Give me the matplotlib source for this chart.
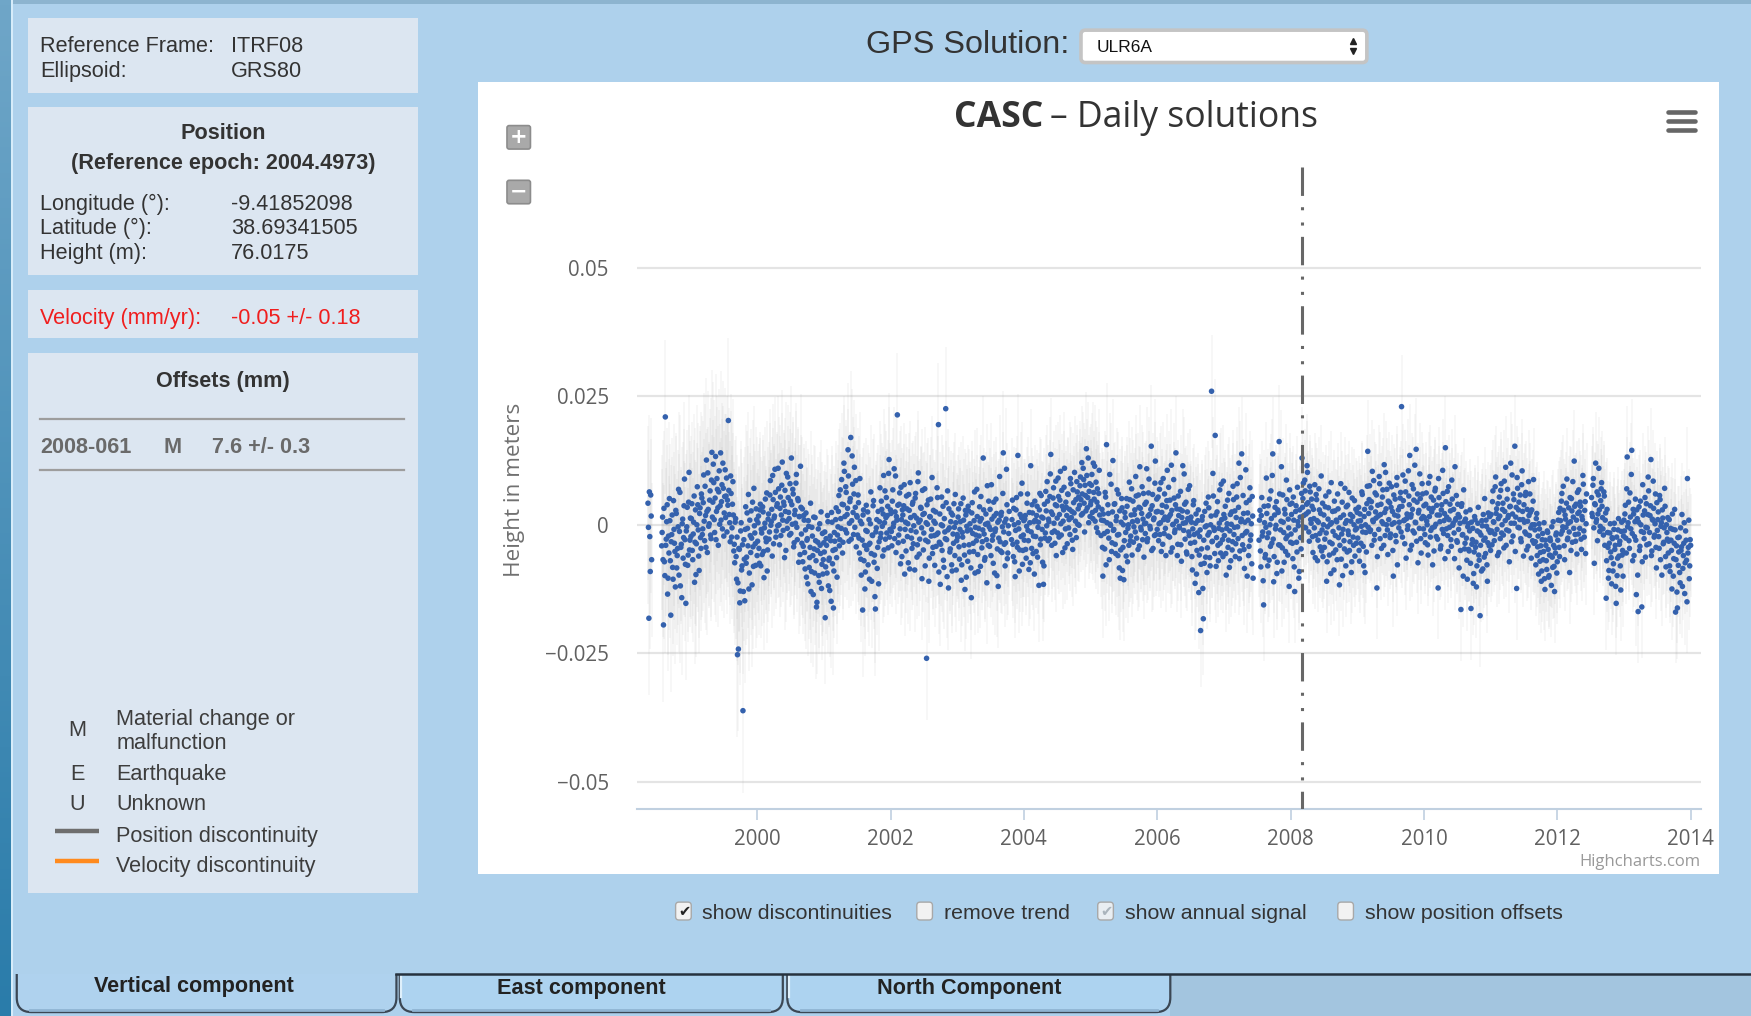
import numpy as np
import matplotlib
matplotlib.use('Agg')
import matplotlib.pyplot as plt
from matplotlib.patches import Rectangle, FancyBboxPatch

# ------------------------------------------------------------------ data
station = 'CASC'
solution = 'ULR6A'
sample_days = 5            # values read every 5 days, two interleaved passes
offset_days = 2.5
years = list(range(1998, 2014))

# heights in mm, None = no solution -- first pass
h1998 = [None]*26 + [4.2, -18.2, -2.3, 5.8, -6.8] + [None]*10 + [
    -4.1, 1.5, -19.5, -7.2, 21.0, -2.8, 3.9, -10.4, -5.5, 0.8, -17.6, -1.9, -8.3, 4.7, -3.6, -12.1,
    2.2, -6.0, -0.4, -9.8, 6.3, -4.4, -14.2, 1.1, -2.5, 8.9, -7.7, -1.2, 3.4, -5.9, 10.2, -3.0]
h1999 = [-2.3, 4.1, -6.8, 0.5, -11.2, 2.9, -3.7, 7.4, -1.0, -8.9, 3.3, -4.6,
         5.2, -0.8, 9.7, -3.1, 1.8, 12.6, -5.4, 3.0, 0.2, 6.6, -2.7, 14.1,
         4.4, 8.2, -1.5, 13.3, 2.6, 6.9, -4.0, 10.5, 3.7, 0.9, 7.8, 12.0, -2.2, 5.5, 1.4, 9.1, 4.8,
         20.3, 2.0, -3.3, 6.1, -0.6, 8.4, -5.1,
         -7.4, 1.2, -10.6, -25.3, -24.2, -4.8, -12.9, 0.4, -8.0, -36.2, -2.9,
         -14.8, 3.5, -6.3, -0.7, 5.9, -9.4, -2.1, 2.7, -11.7, -4.3, 7.1, -1.6, -7.9, 1.0]
h2000 = [-3.2, 1.7, -7.5, 4.0, -0.9, -5.8, 2.5, -10.3, 0.3, -2.6, 6.2, -4.9,
         2.1, -1.4, 8.6, 0.6, -6.1, 4.9, 1.3, 10.8, -2.4, 3.6, -0.2, 7.0,
         -3.9, 5.4, 1.9, 12.2, -1.1, 3.8, 6.7, -5.0, 0.7, 9.3, 2.4, -2.0,
         4.6, 13.0, 0.1, 6.0, -3.5, 2.8, 8.1, -0.5, 5.1, -7.3, 1.6, 11.4,
         -1.8, 3.1, -4.2, 0.9, -8.6, 2.3, -3.0, -11.5, -0.3, -6.4, 4.2, -9.1,
         -2.2, -13.6, -4.7, 1.4, -7.0, -15.1, -3.4, -9.9, 0.2, -5.6, -12.4, -1.7, -6.8]
h2001 = [-5.3, -18.1, -2.7, -9.4, 0.6, -6.9, -12.8, -3.1, 2.4, -7.6, -16.2, -1.5,
         -4.8, 3.3, -10.2, -0.4, 5.7, -2.9, 1.2, 8.8, -5.5, 3.9, 10.4, -1.0,
         6.3, 2.0, 14.6, -3.2, 4.5, 17.0, 0.8, 7.9, -1.9, 11.2, 3.4, -4.3,
         1.5, 5.8, -2.6, 9.0, -6.7, 0.2, -16.6, 2.9, -4.0, -9.2, 3.8, -1.3,
         -7.8, 1.0, -3.6, 6.4, -11.0, -2.1, 4.7, -5.9, -16.4, -0.6, -8.5, 2.6,
         -3.3, 7.2, -1.7, 3.0, -6.1, 9.6, 0.4, -2.8, 5.3, 1.8, -4.5, 12.7, -0.9]
h2002 = [2.2, -4.1, 6.8, 0.3, -2.7, 9.5, 1.6, 21.4, -3.5, 4.0, -0.8, 7.3,
         -6.2, 1.9, 3.7, -9.6, 0.5, 5.6, -2.3, -7.4, 2.8, 8.2, -1.1, -4.6,
         4.4, -0.2, -8.8, 6.1, 1.3, -3.9, 10.1, -5.7, 0.9, 3.2, -10.5, 2.0,
         -1.6, 7.0, -3.0, -26.0, 0.1, 4.8, -6.5, 1.5, -2.2, 9.2, -4.4, 0.7,
         -7.9, 2.5, -1.9, 5.3, 19.5, -3.4, -11.6, 0.0, -5.0, 3.6, -8.3, -1.4,
         22.6, -2.9, 6.6, -12.3, -0.6, -4.7, 2.3, -9.0, -1.8, 4.1, -6.0, 0.4, -3.1]
h2003 = [-2.4, 3.1, -6.7, 0.6, -10.8, -1.5, 5.2, -4.0, -12.6, 1.9, -0.3, -7.1,
         2.7, -5.3, -1.0, -14.2, 4.3, -3.6, 0.8, -9.4, -2.0, 6.9, -5.8, -0.7,
         3.5, -8.1, 1.2, -3.3, 13.0, -1.8, -6.4, 2.1, -11.3, 0.3, 4.6, -4.2,
         -0.9, 7.8, -3.0, -7.5, 1.7, -1.3, 5.0, -9.9, 0.5, -2.6, 9.4, -5.1,
         2.4, -0.4, 14.0, -3.8, -8.0, 1.1, 3.9, -5.5, -1.7, None, None, -2.9,
         4.8, -6.2, 0.0, -10.1, 2.9, -3.4, 13.5, -0.8, -4.9, 6.0, 1.4, -7.7, -2.0]
h2004 = [-3.0, 1.8, -6.5, 4.2, -1.1, -8.7, 0.4, 11.5, -4.6, 2.3, -2.2, -9.6,
         0.9, -5.2, 3.6, -0.5, -11.8, 6.1, -2.8, 1.5, -7.3, -11.6, 4.0, -1.6,
         2.7, 8.4, -3.1, 0.6, 5.5, 13.7, -4.0, 2.0, 7.2, -1.2, 3.9, -6.0,
         1.3, 9.1, -2.4, 4.8, 0.2, 6.7, -5.4, 2.9, 11.0, -0.8, 3.4, -3.7,
         5.9, 1.0, -1.9, 8.0, 2.6, -4.8, 4.3, 10.2, 0.7, -2.5, 6.4, 3.1,
         -0.1, 7.6, 4.9, 12.1, 2.2, 8.8, -1.4, 5.7, 14.8, 3.3, 13.0, 6.5, 1.6]
h2005 = [4.5, 9.8, 1.2, 6.3, 11.4, 2.8, -0.6, 7.0, 3.5, 10.6, None, -2.1,
         3.0, -10.0, 0.8, -4.7, 5.4, 15.6, -1.3, 2.2, -6.8, 0.1, 7.9, -3.5,
         12.5, -0.9, 4.1, -5.6, 1.6, -2.0, 6.0, -8.4, -10.4, 0.5, 3.3, -4.4,
         -10.7, 2.4, -1.5, 5.1, -7.2, 0.0, 8.3, -3.1, 1.9, -5.9, 4.6, -0.4,
         2.9, 9.4, -2.6, 0.7, 5.8, -4.1, 3.2, -1.0, 7.4, 1.1, -6.3, 4.0,
         0.3, 10.9, -2.7, 6.2, 2.0, -0.8, 15.3, 3.7, -4.6, 1.3, 8.1, -1.9, 5.0]
h2006 = [2.6, -3.1, 6.9, 0.4, -5.2, 3.8, 9.0, -1.7, 1.5, -6.0, 4.7, 0.9,
         7.3, -2.4, 2.0, 11.6, -4.5, 0.1, 5.2, -1.0, 14.0, 3.1, -3.8, 1.8,
         -0.6, 6.5, -7.1, 2.7, 0.3, 9.9, -2.8, 4.4, -5.7, 1.2, -1.4, 7.6,
         -3.6, 0.5, -8.8, 3.9, -1.9, -11.4, 2.1, -5.0, 0.8, -13.2, -2.3, -20.6,
         -4.7, 1.6, -18.3, -7.5, -0.4, 4.2, -9.3, -2.0, 3.3, -6.4, 0.0, 26.0,
         -3.2, 5.6, -1.1, 17.4, -8.1, 2.5, -4.0, -0.7, 6.8, -5.5, 1.0, -2.9, 8.5]
h2007 = [-2.1, 3.6, -9.8, 0.2, -4.4, 6.1, -1.2, -7.0, 2.5, -3.3, 4.9, -0.5,
         -6.2, 1.4, 8.0, -2.7, 12.0, -5.1, 0.6, 13.8, -3.9, 2.2, -8.5, -1.6,
         4.3, -10.0, 0.9, -4.2, 7.2, -2.0, -7.6, 1.7, None, None, None, None,
         None, None, -3.0, 2.8, -8.2, 5.3, -1.4, -15.6, 0.4, -5.8, 9.1, -2.5,
         3.7, -6.9, 0.0, 6.6, -3.6, 13.8, -11.1, 1.9, -0.8, 4.5, -7.3, 2.4,
         16.2, -4.0, 0.7, -9.0, 5.8, -1.5, 3.0, -5.2, 8.7, -2.2, 1.1, -12.0, 4.0]
h2008 = [-1.8, 4.2, -6.6, 0.9, -13.0, 2.6, -3.4, 7.3, -0.2, -9.1, 1.5, -4.7,
         13.0, 5.1, 1.8, 8.7, -0.6, 4.0, 10.2, 2.5, -3.2, 6.4, 0.3, 3.6,
         -5.4, 1.2, 7.8, -2.1, 4.9, -7.0, 0.5, 2.9, -4.3, 9.5, -1.0, -6.2,
         1.9, -2.8, 5.6, -11.0, -0.4, 3.3, -5.9, 0.1, 8.2, -3.7, -1.3, -8.8,
         2.7, -4.9, 0.6, 6.0, -2.5, -11.7, 1.4, -6.7, 4.4, -0.9, -3.1, 7.1,
         -8.0, 0.8, 3.8, -1.9, -5.0, 2.0, -9.3, 5.2, -2.4, 0.0, -6.1, 3.0, -0.7]
h2009 = [-2.6, 3.4, -7.1, 0.8, -0.3, 5.9, -4.2, 1.6, -9.3, -1.5, 4.1, 14.3,
         2.2, 7.6, -1.0, 4.5, 10.4, 0.6, -3.0, 6.2, 1.3, -12.3, 3.8, -0.9,
         8.0, 2.0, -4.6, 5.4, 0.2, 11.7, -2.1, 3.1, 6.9, -5.8, 1.0, 4.3,
         -1.8, 7.4, 2.6, -10.0, 0.4, 5.0, -3.3, 9.2, 1.7, -0.6, 3.5, 6.3,
         23.0, -2.4, 4.7, 0.9, 8.5, -6.5, 2.1, -0.2, 5.6, 13.5, 1.5, -4.0,
         3.0, 7.0, -1.6, 0.5, 14.7, 4.4, -7.4, 2.8, 9.9, -2.7, 1.2, 6.0, -0.8]
h2010 = [1.4, -3.5, 6.2, 0.0, -5.9, 3.2, 9.4, -1.1, 2.5, -7.8, 4.8, -0.4,
         7.1, -2.3, 1.9, -12.3, 5.3, 0.6, -4.1, 3.9, 10.6, -1.7, 2.2, 15.0,
         -0.8, 6.5, -5.2, 1.0, 4.0, -2.9, 8.7, -0.1, 3.0, -6.6, 0.9, 5.7,
         -3.4, 2.0, -8.4, 0.3, -16.5, 4.1, -1.9, 6.8, -4.7, 1.1, -2.6, -10.6,
         0.2, -5.1, 2.9, -16.3, -3.8, -0.7, -9.5, 1.6, -4.4, -12.1, -1.2, 3.4,
         -6.9, -17.7, -2.0, 0.8, -8.6, -3.0, 5.1, -5.6, -0.3, -11.0, 2.3, -4.1, -1.5]
h2011 = [2.0, -3.9, 6.6, 0.5, -1.8, 9.3, 3.1, -6.0, 1.2, 5.4, -2.7, 8.0,
         0.0, 4.2, -4.5, 2.6, 11.2, -1.0, 6.9, 1.8, -7.2, 3.6, 0.3, 9.7,
         -2.2, 4.9, 15.3, 1.5, -12.4, 7.1, 2.9, -0.6, 5.8, -3.3, 10.5, 1.0,
         3.9, -1.4, 6.3, -4.9, 0.7, 8.4, -2.1, 2.4, -6.5, 0.0, 4.6, -3.6,
         -1.0, -7.8, 2.2, -4.3, -9.6, -0.8, -5.4, -11.0, -2.9, -6.8, 0.4, -12.6,
         -4.0, -8.7, -1.5, -10.2, -5.9, -3.1, -11.8, -6.3, 0.6, -8.1, -4.5, -2.0, -9.4]
h2012 = [-3.0, 2.4, -6.2, 0.8, 4.6, -1.2, 7.5, -4.1, 1.9, -0.5, 8.9, -2.6,
         3.3, -9.3, 0.6, 5.1, -3.4, 1.5, 12.4, -1.9, 4.0, -5.7, 2.2, 6.8,
         -0.7, 3.6, -4.8, 1.0, 7.9, -2.4, 4.5, 0.2, None, None, None, None, None,
         5.3, 1.6, 9.0, -7.5, 3.9, 0.5, 6.4, 2.1, 11.0, -1.3, 4.7,
         8.2, 1.4, -2.0, 5.6, 0.9, -14.3, 3.0, -4.4, -8.9, -1.6, -5.3, -11.5,
         -2.7, -7.6, 0.3, -4.0, -15.3, -9.9, -1.0, -6.1, -3.2, -12.7, 0.5, -5.0, -2.2]
h2013 = [-1.2, 3.8, -5.5, 13.2, 0.4, -3.1, 6.2, -0.8, 14.5, -7.0, 2.1, -2.3,
         5.0, -13.6, 1.2, -16.9, 3.5, -4.2, 0.0, -16.0, 7.8, -1.5, 2.7, -6.3,
         4.1, -0.6, 9.3, -3.7, 1.8, 12.7, -5.1, 0.9, 3.2, -2.0, 6.0, -8.4,
         -1.1, 2.5, -4.6, 4.9, -0.3, -9.8, 1.3, -3.4, 7.1, -6.2, 0.0, -2.8,
         -5.5, 1.0, -9.1, -3.0, -12.5, -0.9, -6.6, 3.0, -17.0, -4.1, -16.2, -7.9,
         -2.4, -11.3, -5.0, 2.0, -8.5, -3.6, -13.4, -1.2, -6.9, 9.0, -4.4, -10.5, -2.9]

# second pass, read between the first-pass epochs (mm)
g1998 = [None]*26 + [-0.5, 6.4, -9.1, 1.7, None] + [None]*10 + [
    -1.5, -6.8, 3.2, -9.9, -4.0, 0.6, -13.5, -2.2, 5.1, -7.0, -3.3, 1.9, -10.6, -0.9, -5.2, 2.8,
    -8.4, -4.6, 6.9, -1.3, -11.9, -3.8, 0.2, -6.5, 3.7, -2.9, -15.3, -0.4, -7.9, 4.4, -4.9, 1.3]
g1999 = [1.2, -5.0, -1.8, 5.6, -3.4, -9.7, 0.0, 3.9, -6.1, 2.2, -2.5, 6.0,
         -1.9, 4.3, 0.7, 7.5, -4.4, 2.6, 10.1, -0.3, 4.8, -2.0, 8.7, 1.5,
         11.8, 1.0, 5.2, -2.9, 9.0, 3.3, 6.4, 0.1, 14.0, 4.5, -0.8, 7.1, 2.3, 10.7, 5.6, -1.4, 3.8,
         6.7, 0.4, 9.5, -2.4, 4.0, 1.9, -3.8,
         0.5, -6.2, -2.4, -11.3, -4.6, -15.2, -1.2, -8.8, -3.9, -13.0, -6.7,
         -0.9, -7.5, 2.3, -4.1, -12.5, 0.9, -5.4, -2.6, 4.4, -8.1, -0.2, -3.7, 3.1, -6.0]
g2000 = [0.4, -4.6, 2.9, -8.0, -1.6, 3.5, -5.2, -0.6, 5.0, -3.3, -9.0, 1.1,
         -2.8, 5.8, -0.1, 3.0, 9.6, -3.7, 1.7, 6.3, -1.2, 4.1, 11.0, 0.0,
         3.2, -2.1, 7.7, 0.9, 4.4, -6.4, 2.6, 10.0, -0.7, 5.3, 1.2, 8.0,
         -1.7, 3.9, 6.9, -4.3, 2.0, 0.3, 9.8, -2.9, 4.7, 1.6, -5.8, 3.4,
         -3.6, -7.2, 1.8, -5.4, -1.0, -10.2, -2.7, 0.8, -8.3, -4.4, -13.0, -0.5,
         -6.0, 1.5, -9.4, -3.1, -16.0, -5.0, -0.8, -11.2, -4.0, 2.5, -7.7, -9.6, -3.5]
g2001 = [-1.4, -8.2, -4.0, 1.8, -11.9, -6.5, -2.2, -14.9, 0.5, -5.0, -9.0, -3.2,
         1.0, -6.4, -2.0, 2.6, -4.1, 6.8, -0.7, 4.0, -3.4, 12.0, 1.6, 7.4,
         -1.6, 3.2, 9.5, 0.3, 5.1, -2.8, 13.4, 2.4, 6.0, -0.5, 8.6, 1.8,
         -2.0, 4.3, -5.5, 0.7, -9.8, -3.0, 1.9, -7.0, -12.5, -1.1, -4.8, 2.5,
         -3.9, -10.6, 0.2, -5.6, -2.0, 3.7, -7.3, -14.0, -1.4, 1.0, -4.4, -11.5,
         0.6, -2.5, 4.6, -0.3, 2.1, -4.9, 6.6, 1.4, -1.6, 3.6, 10.0, -2.4, 2.9]
g2002 = [-1.3, 4.6, -0.4, 10.9, 2.5, -5.4, 0.9, 3.8, -2.0, 6.2, -7.6, 1.0,
         2.9, -3.2, 7.8, -0.9, -5.1, 3.1, 0.2, 5.9, -8.6, 1.4, -2.6, 4.0,
         -3.7, 1.8, 5.2, -1.4, -6.3, 8.4, 0.5, -2.8, 3.4, -0.6, 6.7, -4.9,
         2.2, -8.0, 0.4, 3.9, -3.3, -11.0, 1.6, 5.0, -0.9, -5.6, 2.8, -2.1,
         0.3, -4.2, 7.2, -1.6, -9.2, 2.1, -3.8, 5.4, -0.2, -6.9, 1.2, -2.7,
         4.3, -10.1, -1.0, 3.1, -5.3, 0.6, -7.8, 1.9, -3.6, -0.5, 5.9, -8.8, -1.9]
g2003 = [1.5, -4.3, -0.9, 4.1, -7.8, -2.4, 0.9, -5.9, 2.8, -10.2, -1.2, 3.6,
         -3.9, 0.2, -8.4, 2.3, -1.7, -5.2, 6.4, -0.5, -3.1, 1.6, -9.1, -2.2,
         0.7, 5.5, -4.5, -1.0, 2.9, -6.9, 0.1, -2.9, 7.6, -4.0, -0.4, 3.0,
         -6.0, 1.1, -2.1, 4.4, -9.4, -0.8, 2.2, -4.7, -12.0, 0.9, -3.3, 1.8,
         -5.4, 6.1, -1.4, 0.5, -3.5, 10.8, -6.6, -0.2, 2.6, None, None, 1.0,
         -3.8, 3.2, -7.2, -1.1, 5.3, -4.4, 0.4, -9.0, 2.0, -2.3, 8.1, -5.0, 0.8]
g2004 = [1.1, -4.8, -0.3, 6.0, -3.1, 2.4, -7.4, -1.4, 3.9, -5.6, 0.6, 4.6,
         -2.3, 1.8, -6.3, 0.5, 2.9, -3.9, 5.7, -0.9, 1.3, -8.0, -2.6, 6.5,
         -0.2, 4.6, 1.1, -2.7, 9.9, 2.5, -1.5, 5.2, 0.3, -3.6, 8.5, 3.7,
         -1.6, 5.5, 2.0, 10.4, -2.0, 3.6, 0.7, 7.3, -4.5, 4.4, 1.8, 6.0,
         -0.6, 3.0, 9.0, 1.4, -3.0, 6.8, 2.3, -1.1, 4.9, 8.4, 0.1, 5.4,
         3.8, 9.3, 1.9, 6.0, 11.0, 4.2, 7.7, 2.7, 9.6, 5.3, 0.4, 8.0, 3.9]
g2005 = [7.7, 2.4, 12.0, 5.0, 0.7, 8.3, 4.4, -1.5, 6.1, 1.9, None, 0.9,
         -4.4, 2.1, -1.7, 6.3, -7.8, 0.4, 3.9, -2.6, 9.8, -0.1, -5.2, 2.5,
         -1.1, 4.0, -3.8, 0.8, 6.8, -6.0, -1.9, 2.7, -4.9, 5.1, -8.9, 0.0,
         -3.1, 1.4, -6.1, 3.6, -0.7, -4.0, 4.9, -2.2, 7.0, 0.6, -3.4, 2.0,
         -1.4, 5.6, 0.9, -4.8, 3.4, 11.3, -0.5, 2.2, -2.9, 6.1, 0.2, -1.7,
         4.4, -3.3, 1.7, 8.9, -0.3, 3.0, -5.0, 5.9, 1.0, -2.1, 12.4, 2.5, -0.9]
g2006 = [5.4, 0.2, -1.9, 8.2, 2.4, -3.8, 1.0, 6.0, -0.7, 3.5, 10.6, -2.2,
         1.6, 4.8, -5.3, 2.8, 0.0, 8.8, -1.5, 3.9, 0.7, -6.0, 5.6, -0.3,
         3.0, -3.9, 1.4, 11.5, -1.1, 4.0, 0.4, -5.3, 2.5, 6.9, -2.1, 0.9,
         1.5, -6.2, -0.8, 4.7, -3.4, 0.3, -9.6, -1.6, 2.9, -5.9, -1.0, -7.7,
         0.9, -12.4, -3.0, 2.6, -6.3, -0.2, -4.5, 5.4, -1.5, -8.0, 1.7, -3.3,
         10.0, -0.6, -5.6, 1.9, -2.5, 4.5, -7.0, 0.3, -3.6, 7.9, -1.0, -6.2, 2.0]
g2007 = [1.3, -5.6, -0.7, 4.8, -3.0, -8.3, 2.0, 0.1, -4.9, 7.5, -1.9, 2.7,
         -3.7, 5.4, -0.4, 3.4, -6.6, 9.2, 1.1, -2.1, 5.7, -4.8, 0.5, 10.7,
         -1.3, 2.3, -6.0, 4.8, -3.0, 0.2, 5.5, -10.4, None, None, None, None,
         None, None, 0.9, -5.1, 1.8, -2.2, -10.9, 3.6, -6.4, -0.5, 2.2, -8.0,
         -1.6, 5.0, -4.2, 1.2, 9.6, -2.8, -6.2, 3.4, -0.1, -9.5, 2.9, -3.9,
         6.0, -1.0, 11.3, -4.5, 0.5, -7.3, 2.1, -2.7, 4.9, -5.9, -0.6, 6.8, -3.4]
g2008 = [2.0, -3.6, 5.4, -8.2, -1.0, 3.7, -5.3, 0.6, -10.4, 2.9, -2.5, 6.1,
         3.4, 8.1, -0.5, 6.6, 2.1, 11.5, 4.3, -1.4, 7.5, 1.0, 5.0, -2.3,
         3.0, -0.6, -6.4, 5.9, 0.8, -3.0, 7.0, -1.7, 2.2, -5.1, 4.2, 0.0,
         -4.4, 3.5, -1.6, -7.2, 1.1, 6.4, -3.4, -9.5, 0.4, 2.6, -5.5, 4.6,
         -2.1, 0.9, -6.8, 3.1, -0.6, -4.0, 8.0, -1.8, -9.9, 1.9, -4.7, 0.3,
         3.5, -5.3, -1.2, 6.3, -3.3, 0.7, -7.2, 1.6, -4.0, 4.7, -1.0, -3.6, 2.4]
g2009 = [0.7, -5.0, 2.1, -3.6, 6.4, -1.4, -8.0, 3.0, 0.0, -5.3, 7.5, -0.5,
         4.9, -1.3, 3.3, -4.0, 0.9, 8.6, -1.9, 2.5, 5.8, -6.2, 1.7, 9.4,
         -2.7, 4.0, 0.6, 6.8, -4.0, 2.4, 10.2, 0.0, -1.0, 4.6, 8.1, -2.5,
         3.4, 0.1, -5.0, 5.8, 1.9, -2.1, 7.7, -7.8, 2.9, 0.5, 5.2, -1.4,
         3.6, 9.7, 0.8, -3.7, 6.4, 1.2, -0.9, 10.5, 3.9, -4.9, 2.0, 7.8,
         -1.2, 4.8, 11.6, 0.4, -3.2, 6.0, 2.3, -0.7, 5.1, -5.5, 8.0, 1.6, 3.7]
g2010 = [-1.9, 4.0, 0.7, -3.9, 8.1, 1.6, -2.4, 5.4, -0.6, 3.2, -5.1, 6.6,
         0.1, 3.8, -2.8, 9.0, 1.9, -4.7, 2.9, -0.9, 6.1, 0.8, -6.6, 4.5,
         1.5, -2.1, 7.4, -0.5, 2.7, -4.2, 5.0, 0.3, -1.6, 11.3, 1.2, -3.1,
         4.0, -0.9, 1.5, -5.0, 3.6, -2.0, -10.0, 0.6, -3.6, 2.5, -6.9, -0.4,
         -4.8, -1.2, -7.5, 0.5, -2.9, -11.4, -5.3, 1.0, -3.4, -8.0, 0.3, -5.9,
         -1.5, -4.0, -9.0, -0.2, 2.0, -6.3, -2.6, 0.9, -7.8, -3.5, -1.0, 1.6, -5.0]
g2011 = [-1.2, 4.5, 0.6, -3.1, 7.4, 2.2, -0.9, 4.1, -5.4, 1.7, 6.7, -1.6,
         3.0, -2.0, 8.5, 0.8, -4.0, 5.0, 1.4, -1.2, 3.5, 12.0, -3.3, 2.1,
         6.0, 0.3, -5.2, 3.4, 9.2, -0.5, 4.4, 1.0, -2.7, 7.8, 2.6, -6.1,
         0.5, 5.7, -1.8, 3.0, -4.2, 1.8, 6.0, -0.6, 2.9, -3.1, 8.8, 0.0,
         -3.3, 1.2, -6.0, -2.2, 0.2, -7.1, -4.1, -9.0, -1.7, -5.2, -10.5, -3.0,
         -7.0, -1.2, -4.8, -9.9, -2.6, -6.0, -0.4, -8.3, -4.0, -13.0, -5.5, -1.6, -7.2]
g2012 = [0.9, -4.4, 3.2, -1.8, 6.1, -0.4, 2.8, -6.8, 1.1, 4.2, -2.9, 0.3,
         -1.4, 5.3, -5.0, 2.7, 8.4, -0.7, 3.6, -3.2, 0.9, 6.3, -1.8, 2.5,
         4.4, -2.8, 1.6, 9.6, -1.2, 2.8, -5.6, 6.0, None, None, None, None, None,
         2.2, 7.7, -0.6, 4.1, 12.0, 1.0, -3.1, 5.8, 2.9, -0.3, 7.0,
         3.6, -0.8, 6.4, -4.0, 2.3, -7.0, -1.5, -10.4, -3.6, 0.2, -6.4, -2.5,
         -9.0, -0.9, -4.8, -12.0, -2.4, -6.5, 1.2, -3.8, -8.0, -1.3, -5.9, -10.0, 0.9]
g2013 = [2.1, -2.6, 7.0, -0.4, 4.4, -4.6, 1.5, 9.8, -1.7, 3.0, -6.0, 0.6,
         -3.0, 2.9, -9.8, 0.5, -5.0, 4.6, -1.3, -7.2, 1.9, -2.7, 5.3, -0.5,
         -3.9, 2.0, 6.6, -1.5, 3.7, -6.0, 1.1, 8.5, -2.4, 0.2, -4.4, 4.3,
         1.0, -2.3, 5.7, -6.8, 0.4, 2.9, -3.7, -0.6, 3.6, -8.2, -1.5, 1.4,
         -3.2, -8.0, -0.7, -5.0, 2.1, -10.0, -3.6, -1.0, -6.8, -13.1, -2.5, -5.3,
         -9.3, -0.6, -4.3, -12.0, -6.0, 0.4, -7.4, -3.0, -15.0, -5.5, 0.9, -8.0, -4.0]

pass1 = [h1998, h1999, h2000, h2001, h2002, h2003, h2004, h2005,
         h2006, h2007, h2008, h2009, h2010, h2011, h2012, h2013]
pass2 = [g1998, g1999, g2000, g2001, g2002, g2003, g2004, g2005,
         g2006, g2007, g2008, g2009, g2010, g2011, g2012, g2013]
# typical error-bar half length per year (mm)
sigma_mm = [15, 16, 14, 13, 12, 12, 11, 12, 11, 11, 10, 10, 10, 10, 10, 10]

discontinuity_epoch = 2008.165     # 2008-061
y_ticks = [-0.05, -0.025, 0, 0.025, 0.05]
y_tick_labels = ['\u22120.05', '\u22120.025', '0', '0.025', '0.05']
x_ticks = [2000, 2002, 2004, 2006, 2008, 2010, 2012, 2014]
x_tick_labels = ['2000', '2002', '2004', '2006', '2008', '2010', '2012', '2014']

frame_labels = ['Reference Frame:', 'Ellipsoid:']
frame_values = ['ITRF08', 'GRS80']
pos_labels = ['Longitude (\u00b0):', 'Latitude (\u00b0):', 'Height (m):']
pos_values = ['-9.41852098', '38.69341505', '76.0175']
ref_epoch = '2004.4973'
velocity = '-0.05 +/- 0.18'
offset_row = ['2008-061', 'M', '7.6 +/- 0.3']
legend_codes = ['M', 'E', 'U']
legend_code_text = [['Material change or', 'malfunction'], ['Earthquake'], ['Unknown']]
checkbox_labels = ['show discontinuities', 'remove trend', 'show annual signal', 'show position offsets']
checkbox_state = [1, 0, 2, 0]   # 1 checked, 2 checked (disabled), 0 unchecked
tab_labels = ['Vertical component', 'East component', 'North Component']

# ------------------------------------------------------------------ figure
W, H = 1568.0, 910.0
fig = plt.figure(figsize=(17.51, 10.16), dpi=100)
fig.patch.set_facecolor('#aed1ec')
bg = fig.add_axes([0, 0, 1, 1])
bg.set_xlim(0, W)
bg.set_ylim(H, 0)
bg.axis('off')

SANS = ['Liberation Sans', 'DejaVu Sans']
HC = ['Open Sans', 'DejaVu Sans']
TXT = '#333333'
DY = 2.0

def txt(x, y, s, **kw):
    kw.setdefault('family', SANS)
    kw.setdefault('va', 'center')
    kw.setdefault('zorder', 3)
    return bg.text(x, y + DY, s, **kw)

# left dark strip + top strip
grad = np.linspace(0, 1, 200).reshape(-1, 1)
bg.imshow(grad, extent=[0, 10, H, 0], aspect='auto', cmap=matplotlib.colors.LinearSegmentedColormap.from_list(
    'strip', ['#6fa6c8', '#2a7caa']), zorder=1)
bg.add_patch(Rectangle((10, 0), 2, H, fc='#d6ecfa', ec='none', zorder=1))
bg.add_patch(Rectangle((12, 0), W, 4, fc='#8db4cf', ec='none', zorder=1))

# left panel boxes
PANEL = '#dce6f1'
for (y0, y1) in [(16, 83), (96, 246), (260, 303), (316, 800)]:
    bg.add_patch(Rectangle((25, y0), 349, y1 - y0, fc=PANEL, ec='none', zorder=1))

fs = 15.6
for i, (lab, val) in enumerate(zip(frame_labels, frame_values)):
    y = 40 + 22 * i
    txt(36, y, lab, fontsize=fs, color=TXT)
    txt(207, y, val, fontsize=fs, color=TXT)
txt(199.5, 118, 'Position', fontsize=fs, weight='bold', color=TXT, ha='center')
txt(199.5, 144, '(Reference epoch: %s)' % ref_epoch, fontsize=fs, weight='bold', color=TXT, ha='center')
for i, (lab, val) in enumerate(zip(pos_labels, pos_values)):
    y = 181 + 22 * i
    txt(36, y, lab, fontsize=fs, color=TXT)
    txt(207, y, val, fontsize=fs, color=TXT)
RED = '#f01e1e'
txt(36, 283, 'Velocity (mm/yr):', fontsize=fs, color=RED)
txt(207, 283, velocity, fontsize=fs, color=RED)
txt(199.5, 340, 'Offsets (mm)', fontsize=fs, weight='bold', color=TXT, ha='center')
for yl in (375, 421):
    bg.plot([36, 362], [yl, yl], color='#9d9d9d', lw=1.6, zorder=3)
for xx, s in zip([36, 146, 190], offset_row):
    txt(xx, 399, s, fontsize=fs, weight='bold', color='#6a6a6a')

LEG = '#3d3d3d'
code_y = [652, 692, 719]
for code, lines, y in zip(legend_codes, legend_code_text, code_y):
    txt(69, y, code, fontsize=fs, color=LEG, ha='center')
    if len(lines) == 2:
        txt(104, y - 10, lines[0], fontsize=fs, color=LEG)
        txt(104, y + 12, lines[1], fontsize=fs, color=LEG)
    else:
        txt(104, y, lines[0], fontsize=fs, color=LEG)
bg.plot([49, 89], [744, 744], color='#6e6e6e', lw=3.2, solid_capstyle='butt', zorder=3)
txt(104, 747, 'Position discontinuity', fontsize=fs, color=LEG)
bg.plot([49, 89], [771, 771], color='#ff8a1e', lw=3.2, solid_capstyle='butt', zorder=3)
txt(104, 774, 'Velocity discontinuity', fontsize=fs, color=LEG)

# GPS solution selector
txt(958, 38.5, 'GPS Solution:', fontsize=23.3, color=TXT, ha='right')
bg.add_patch(FancyBboxPatch((968, 27), 256, 29, boxstyle='round,pad=0,rounding_size=4',
                            fc='white', ec='#c4c4c4', lw=2.6, zorder=3))
txt(982, 40.5, solution, fontsize=12.5, color='#111111', zorder=4)
bg.plot([1212], [37], marker='^', ms=4.5, color='#222222', zorder=4)
bg.plot([1212], [46], marker='v', ms=4.5, color='#222222', zorder=4)

# chart container
bg.add_patch(Rectangle((428, 73), 1111, 710, fc='white', ec='none', zorder=1))
txt(934, 104, station, fontsize=25.6, weight='bold', color='#333333', family=HC, ha='right')
txt(940, 104, '\u2013 Daily solutions', fontsize=25.6, color='#333333', family=HC, ha='left')
for yb, sym in [(123, '+'), (172, '\u2212')]:
    bg.add_patch(FancyBboxPatch((454, yb - 10.5), 21, 21, boxstyle='round,pad=0,rounding_size=2',
                                fc='#a9a9a9', ec='#8c8c8c', lw=1.2, zorder=3))
    bg.text(464.5, yb, sym, fontsize=15, weight='bold', color='white', family=['DejaVu Sans'],
            ha='center', va='center', zorder=4)
for yh in (100, 108, 116):
    bg.plot([1494, 1518], [yh, yh], color='#666666', lw=3.3, solid_capstyle='round', zorder=3)
txt(461, 437, 'Height in meters', fontsize=16.2, color='#707070', family=HC, rotation=90, ha='center')
txt(1523, 770, 'Highcharts.com', fontsize=12, color='#999999', family=HC, ha='right')

# checkboxes
cb_x = [612, 828, 990, 1205]
for cx, lab, st in zip(cb_x, checkbox_labels, checkbox_state):
    bg.add_patch(FancyBboxPatch((cx - 7, 808), 14, 16, boxstyle='round,pad=0,rounding_size=3',
                                fc='#f2f2f2' if st != 2 else '#e9eef2', ec='#a8a8a8', lw=1.0, zorder=3))
    if st:
        bg.text(cx + 0.5, 816, '\u2714', fontsize=10.5, color='#222222' if st == 1 else '#aab4bc',
                family=['DejaVu Sans'], ha='center', va='center', zorder=4)
    txt(cx + 17, 816.5, lab, fontsize=15.4, color=TXT)

# tabs
clip = Rectangle((0, 872.5), W, 40, transform=bg.transData)
bg.add_patch(Rectangle((1048, 872), W - 1048, 40, fc='#a3c5df', ec='none', zorder=1))
tab_x = [(15, 355), (358, 701), (705, 1048)]
tab_text_x = [174, 521, 868]
for k, ((x0, x1), lab, tx) in enumerate(zip(tab_x, tab_labels, tab_text_x)):
    p = FancyBboxPatch((x0, 840), x1 - x0, 66.5, boxstyle='round,pad=0,rounding_size=13',
                       fc='#add3f0' if k else '#afd2ee', ec='#3b4754', lw=1.6, zorder=2)
    bg.add_patch(p)
    p.set_clip_path(clip)
    bg.plot([x0 + 12, x1 - 12], [904.5, 904.5], color='#8fb4d2', lw=2.0, zorder=2)
    if k:
        bg.plot([x0 + 1.2, x0 + 1.2], [874, 893], color='#dff0fb', lw=1.6, zorder=3)
    txt(tx, 882 if k == 0 else 883.5, lab, fontsize=15.6, weight='bold', color='#222222', ha='center')
bg.plot([355, W], [872, 872], color='#26323e', lw=1.8, zorder=3)

# ------------------------------------------------------------------ plot
L, R, T, B = 570, 1523, 150, 725
ax = fig.add_axes([L / W, 1 - B / H, (R - L) / W, (B - T) / H])
ax.set_facecolor('white')
ax.set_zorder(2)
ax.set_xlim(1998.191, 2014.151)
ax.set_ylim(-0.05543, 0.06957)

xs, ys, es = [], [], []
for series, off in ((pass1, 0.0), (pass2, offset_days)):
    for yr, vals, sg in zip(years, series, sigma_mm):
        v = np.array(vals, dtype=float)
        t = yr + (np.arange(len(v)) * sample_days + sample_days / 2 + off) / 365.25
        m = ~np.isnan(v)
        xs.append(t[m])
        ys.append(v[m] / 1000.0)
        es.append(np.full(m.sum(), sg / 1000.0))
xs = np.concatenate(xs)
ys = np.concatenate(ys)
es = np.concatenate(es)

ax.vlines(xs, ys - es, ys + es, colors='#9a9a9a', alpha=0.09, lw=1.2, zorder=2)
ax.scatter(xs, ys, s=16, color='#3461ad', edgecolors='none', zorder=3)

ax.plot([discontinuity_epoch, discontinuity_epoch], [1, 0], transform=ax.get_xaxis_transform(),
        color='#676767', lw=2.2, dashes=(9.3, 3.7, 1, 4.0, 1, 3.7), zorder=4)

ax.set_yticks(y_ticks)
ax.set_yticklabels(y_tick_labels)
ax.yaxis.grid(True, color='#e4e4e4', lw=1.6, zorder=0)
ax.set_axisbelow(True)
ax.tick_params(axis='y', length=0, pad=20, labelsize=14.8, labelcolor='#606060')
for lab in ax.get_yticklabels():
    lab.set_family(HC)
ax.set_xticks(x_ticks)
ax.set_xticklabels(x_tick_labels)
ax.tick_params(axis='x', length=8, width=1.2, color='#c0d0e0', direction='out', pad=6,
               labelsize=14.8, labelcolor='#606060')
for lab in ax.get_xticklabels():
    lab.set_family(HC)
for s in ['top', 'left', 'right']:
    ax.spines[s].set_visible(False)
ax.spines['bottom'].set_color('#c0d0e0')
ax.spines['bottom'].set_linewidth(1.5)

fig.savefig('out.png', dpi=100, facecolor=fig.get_facecolor())
